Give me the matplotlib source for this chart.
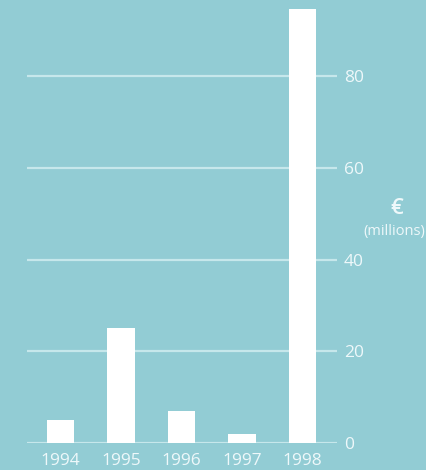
import matplotlib
matplotlib.use("Agg")
import matplotlib.pyplot as plt

# Annual amounts, € millions
years = ["1994", "1995", "1996", "1997", "1998"]
values = [5, 25, 7, 2, 94.5]
y_ticks = [0, 20, 40, 60, 80]

BG = "#92ccd4"
GRID = "#c6e7eb"
TEXT = "#eef8fa"

plt.rcParams["font.family"] = ["Open Sans", "DejaVu Sans"]

fig = plt.figure(figsize=(4.26, 4.70), dpi=100, facecolor=BG)
ax = fig.add_axes([27 / 426, 27 / 470, 310 / 426, 443 / 470])
ax.set_facecolor(BG)

x = list(range(len(years)))
ax.set_xlim(-0.554, len(years) - 1 + 0.570)
ax.set_ylim(0, 96.57)

for t in y_ticks:
    ax.axhline(t, color=GRID, lw=1.6, zorder=1)

ax.bar(x, values, width=0.455, color="white", zorder=2)

for s in ax.spines.values():
    s.set_visible(False)

ax.yaxis.tick_right()
ax.set_yticks(y_ticks)
ax.set_yticklabels([str(t) for t in y_ticks])
ax.tick_params(axis="y", length=0, pad=5, labelsize=12.5, labelcolor=TEXT)

ax.set_xticks(x)
ax.set_xticklabels(years)
ax.tick_params(axis="x", length=0, pad=7, labelsize=12.5, labelcolor=TEXT)

fig.text(397 / 426, 1 - 209 / 470, "€", ha="center", va="center",
         fontsize=16, color=TEXT, fontweight="semibold")
fig.text(394 / 426, 1 - 231 / 470, "(millions)", ha="center", va="center",
         fontsize=10.5, color=TEXT)

fig.savefig("out.png", dpi=100, facecolor=BG)
